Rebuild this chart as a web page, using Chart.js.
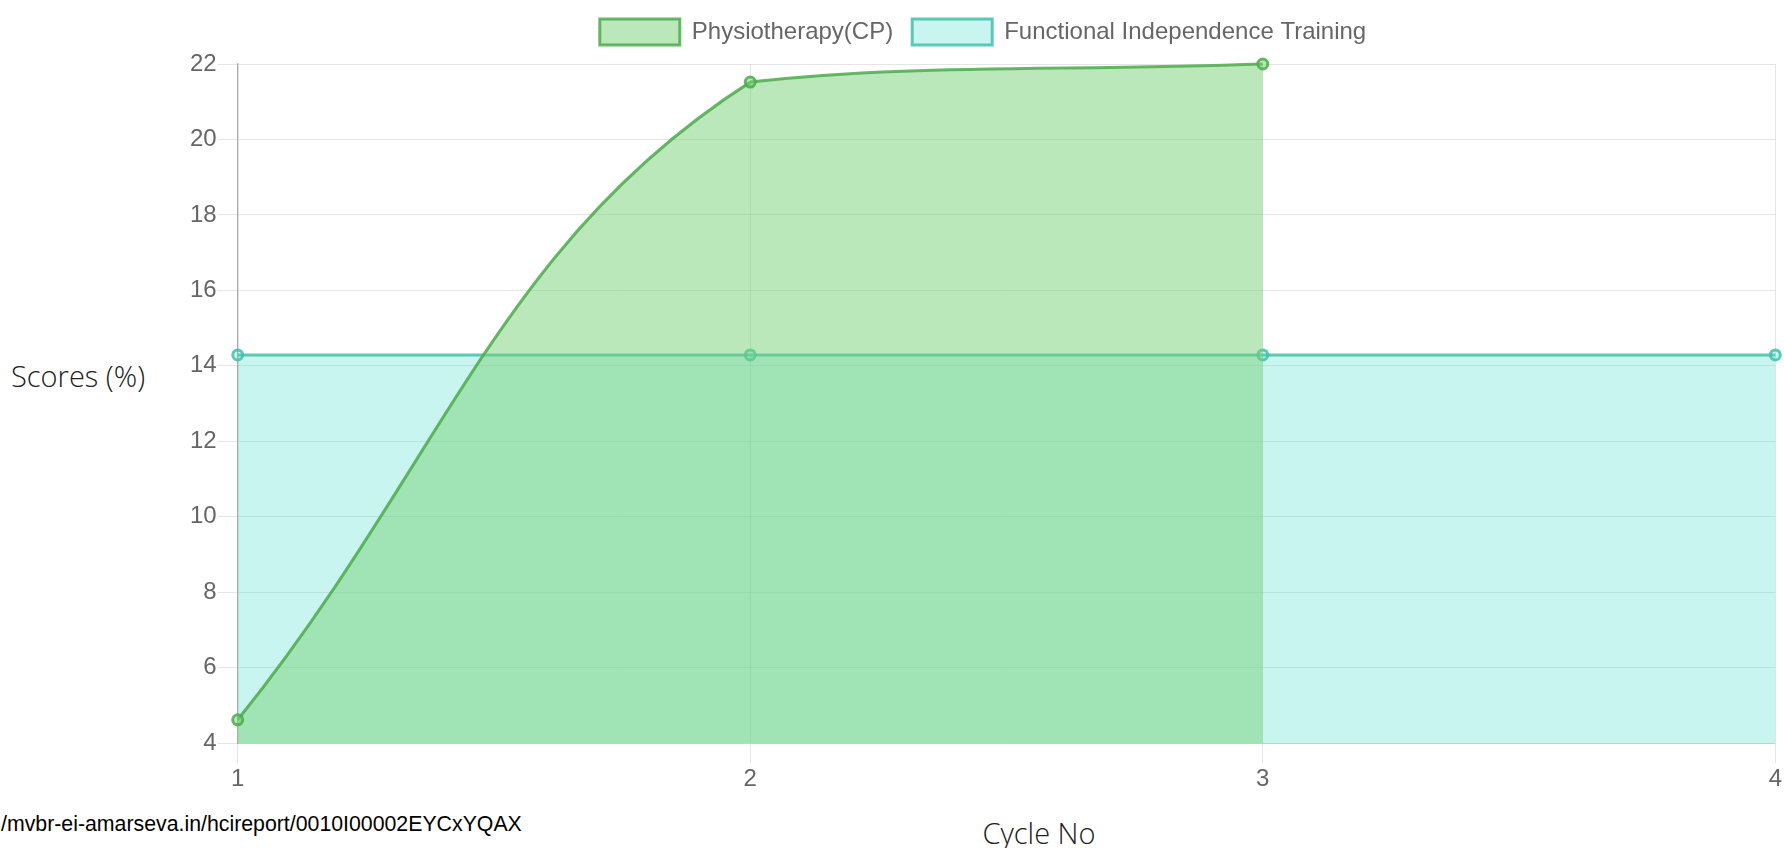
<!DOCTYPE html>
<html>
<head>
<meta charset="utf-8">
<script src="https://cdn.jsdelivr.net/npm/chart.js@4.4.1/dist/chart.umd.min.js"></script>
<style>
  html, body { margin: 0; padding: 0; background: #fff; width: 1784px; height: 848px; overflow: hidden; }
  #wrap { position: absolute; left: 189px; top: 0; width: 1595px; height: 796px; }
  .axis-title { position: absolute; font-family: 'Open Sans', sans-serif; font-weight: 300; font-size: 29px; line-height: 29px; color: #222; white-space: nowrap; }
  #ytitle { left: 11px; top: 361px; }
  #xtitle { left: 1039px; top: 818px; transform: translateX(-50%); }
  #url { position: absolute; left: 1px; top: 814px; font-family: 'Liberation Sans', Arial, sans-serif; font-size: 21.3px; line-height: 21px; color: #000; white-space: nowrap; }
</style>
</head>
<body>
<div id="wrap"><canvas id="c" width="1595" height="796"></canvas></div>
<div id="ytitle" class="axis-title">Scores (%)</div>
<div id="xtitle" class="axis-title">Cycle No</div>
<div id="url">/mvbr-ei-amarseva.in/hcireport/0010I00002EYCxYQAX</div>
<script>
const cycles = ['1', '2', '3', '4'];
const physiotherapyCP = [4.62, 21.52, 22, null];
const functionalIndependence = [14.29, 14.29, 14.29, 14.29];
const seriesNames = ['Physiotherapy(CP)', 'Functional Independence Training'];
const yMin = 4, yMax = 22, yStep = 2;

const legendSpacer = {
  id: 'legendSpacer',
  beforeInit(chart) {
    const legend = chart.legend;
    const origFit = legend.fit;
    legend.fit = function () {
      origFit.call(this);
      this.height += 9;
    };
    const origDraw = legend.draw;
    legend.draw = function () {
      this.left -= 3.5; this.right -= 3.5;
      origDraw.call(this);
      this.left += 3.5; this.right += 3.5;
    };
  }
};

const tickFont = { family: "'Liberation Sans', Arial, sans-serif", size: 24 };

new Chart(document.getElementById('c'), {
  type: 'line',
  data: {
    labels: cycles,
    datasets: [
      {
        label: seriesNames[0],
        data: physiotherapyCP,
        borderColor: 'rgba(76,172,76,0.85)',
        backgroundColor: 'rgba(120,210,120,0.5)',
        borderWidth: 3,
        pointRadius: 5,
        pointBorderWidth: 3,
        pointBackgroundColor: 'rgba(120,210,120,0.5)',
        pointBorderColor: 'rgba(76,172,76,0.85)',
        tension: 0.4,
        fill: 'start',
        spanGaps: false,
        clip: 10
      },
      {
        label: seriesNames[1],
        data: functionalIndependence,
        borderColor: 'rgba(66,192,172,0.85)',
        backgroundColor: 'rgba(75,222,205,0.3)',
        borderWidth: 3,
        pointRadius: 5,
        pointBorderWidth: 3,
        pointBackgroundColor: 'rgba(75,222,205,0.3)',
        pointBorderColor: 'rgba(66,192,172,0.85)',
        tension: 0.4,
        fill: 'start',
        clip: 10
      }
    ]
  },
  options: {
    responsive: false,
    animation: false,
    devicePixelRatio: 1,
    layout: { padding: 0 },
    plugins: {
      legend: {
        display: true,
        position: 'top',
        labels: {
          boxWidth: 80,
          boxHeight: 26,
          padding: 19,
          color: '#666',
          font: tickFont
        }
      },
      tooltip: { enabled: false },
      title: { display: false }
    },
    scales: {
      x: {
        type: 'category',
        offset: false,
        grid: { color: 'rgba(0,0,0,0.1)', tickLength: 20, lineWidth: 1 },
        border: { color: 'rgba(0,0,0,0.12)', width: 1 },
        ticks: { color: '#666', font: tickFont, padding: 2, maxRotation: 0 }
      },
      y: {
        min: yMin,
        max: yMax,
        grid: { color: 'rgba(0,0,0,0.1)', tickLength: 20, lineWidth: 1 },
        border: { color: 'rgba(0,0,0,0.25)', width: 1.5 },
        ticks: { color: '#666', font: tickFont, padding: 1, stepSize: yStep }
      }
    }
  },
  plugins: [legendSpacer]
});
</script>
</body>
</html>
